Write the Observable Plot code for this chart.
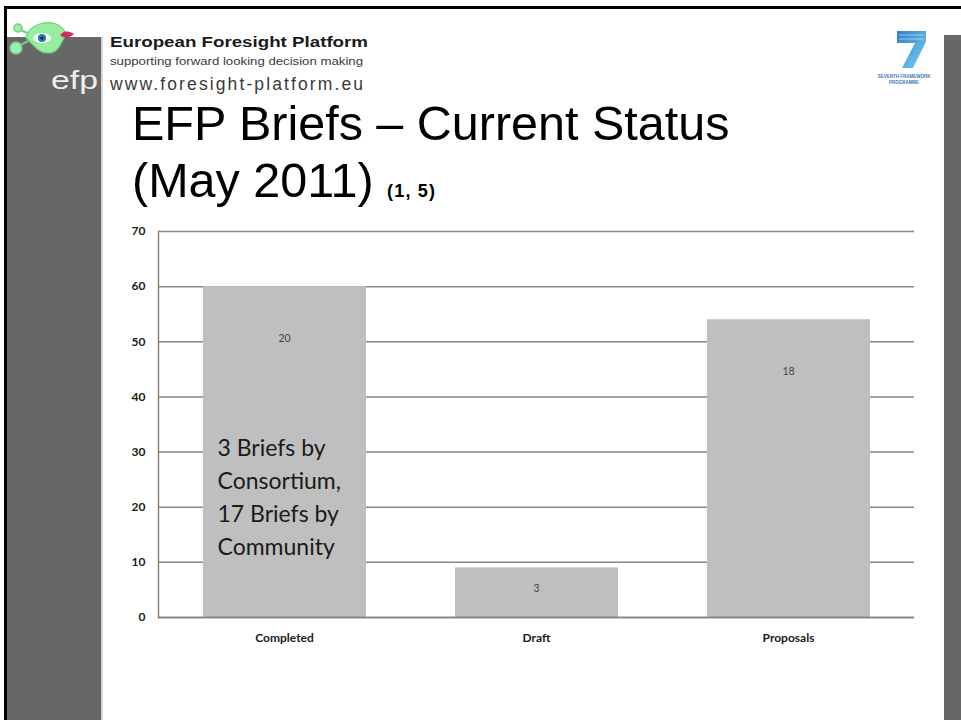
<!DOCTYPE html>
<html>
<head>
<meta charset="utf-8">
<script src="https://cdn.jsdelivr.net/npm/d3@7"></script>
<script src="https://cdn.jsdelivr.net/npm/@observablehq/plot@0.6"></script>
<style>
  html, body { margin: 0; padding: 0; background: #fff; }
  #page { position: relative; width: 961px; height: 720px; overflow: hidden; background: #fff; }
  #deco { position: absolute; left: 0; top: 0; }
  #chart { position: absolute; left: 0; top: 0; }
</style>
</head>
<body>
<div id="page">
  <svg id="deco" width="961" height="720" xmlns="http://www.w3.org/2000/svg">
    <defs>
      <linearGradient id="fp7" x1="0" y1="0" x2="1" y2="1">
        <stop offset="0" stop-color="#2f7fce"/>
        <stop offset="1" stop-color="#7fd0ee"/>
      </linearGradient>
    </defs>
    <!-- slide border and side bands -->
    <rect x="4" y="6" width="957" height="3" fill="#000"/>
    <rect x="4" y="6" width="3" height="714" fill="#000"/>
    <rect x="7" y="37" width="94" height="683" fill="#676767"/>
    <rect x="101" y="37" width="2" height="683" fill="#d8d8d8"/>
    <rect x="944" y="35" width="17" height="685" fill="#676767"/>
    <!-- efp logo -->
    <g>
      <path d="M30,34 L18,29 M30,40 L17,47" stroke="#6fd07f" stroke-width="2" fill="none"/>
      <circle cx="18" cy="28" r="4" fill="#9cf0a6" stroke="#6fd07f" stroke-width="1.5"/>
      <circle cx="16" cy="48" r="6" fill="#9cf0a6" stroke="#6fd07f" stroke-width="1.5"/>
      <path d="M26,38 C28,26 44,20 56,24 C62,26 64,30 66,33 L64,38 C60,45 58,53 48,53 C38,53 34,45 26,38 Z" fill="#98ee9f" stroke="#6fd07f" stroke-width="1.2"/>
      <ellipse cx="42" cy="38" rx="9" ry="5" fill="#f4fbf4"/>
      <circle cx="42" cy="38" r="4" fill="#2c78a8"/>
      <circle cx="42" cy="38" r="1.6" fill="#0b2a40"/>
      <path d="M60,35 C64,30 70,31 74,34 C70,38 64,39 60,35 Z" fill="#d42a5f"/>
      <text x="51" y="89" font-family="Liberation Sans, Arial, sans-serif" font-size="26" fill="#eeeeee" textLength="47" lengthAdjust="spacingAndGlyphs">efp</text>
    </g>
    <!-- header -->
    <text x="110" y="47" font-family="Liberation Sans, Arial, sans-serif" font-weight="bold" font-size="14" fill="#1a1a1a" textLength="258" lengthAdjust="spacingAndGlyphs">European Foresight Platform</text>
    <text x="110" y="65" font-family="Liberation Sans, Arial, sans-serif" font-size="10" fill="#3a3a3a" textLength="253" lengthAdjust="spacingAndGlyphs">supporting forward looking decision making</text>
    <text x="110" y="90" font-family="Liberation Sans, Arial, sans-serif" font-size="17.5" fill="#3a3a3a" textLength="253" lengthAdjust="spacing">www.foresight-platform.eu</text>
    <!-- FP7 logo -->
    <g>
      <path d="M897,31 L926,31 L926,42 L913,68 L902,68 L915,43 L897,43 Z" fill="url(#fp7)"/>
      <path d="M899,35 L924,35 M899,39 L923,39" stroke="#ffffff" stroke-width="0.8" opacity="0.6"/>
      <text x="904" y="78" text-anchor="middle" font-family="Liberation Sans, Arial, sans-serif" font-size="4.5" font-weight="bold" fill="#3f78b8">SEVENTH FRAMEWORK</text>
      <text x="904" y="84" text-anchor="middle" font-family="Liberation Sans, Arial, sans-serif" font-size="4.5" font-weight="bold" fill="#3f78b8">PROGRAMME</text>
    </g>
    <!-- title -->
    <text x="132" y="140" font-family="Liberation Sans, Arial, sans-serif" font-size="48.5" fill="#000">EFP Briefs – Current Status</text>
    <text x="132" y="197" font-family="Liberation Sans, Arial, sans-serif" font-size="48.5" fill="#000">(May 2011)</text>
    <text x="387" y="197" font-family="Liberation Sans, Arial, sans-serif" font-size="18" font-weight="bold" fill="#000" textLength="48" lengthAdjust="spacing">(1, 5)</text>
  </svg>
  <div id="chart"></div>
</div>
<script>
// ---- data ----
const categories = ["Completed", "Draft", "Proposals"];
const barValues = [60, 9, 54];
const barLabels = ["20", "3", "18"];
const yTicks = [0, 10, 20, 30, 40, 50, 60, 70];
const annotationLines = ["3 Briefs by", "Consortium,", "17 Briefs by", "Community"];

const rows = categories.map((c, i) => ({category: c, value: barValues[i], label: barLabels[i]}));

const chart = Plot.plot({
  width: 961,
  height: 720,
  marginLeft: 158,
  marginRight: 47,
  marginTop: 231,
  marginBottom: 103,
  style: {fontFamily: "Lato, sans-serif", background: "transparent", overflow: "visible"},
  x: {domain: categories, padding: 0, label: null},
  y: {domain: [0, 70], ticks: yTicks, label: null},
  marks: [
    Plot.ruleY(yTicks.filter(t => t > 0), {stroke: "#878787", strokeWidth: 1.5}),
    Plot.barY(rows, {x: "category", y: "value", fill: "#bfbfbf", insetLeft: 45, insetRight: 44}),
    Plot.ruleY([0], {stroke: "#878787", strokeWidth: 2}),
    Plot.frame({anchor: "left", stroke: "#878787", strokeWidth: 1.5}),
    Plot.axisY({ticks: yTicks, tickSize: 0, tickPadding: 13, fontSize: 12, fontWeight: "bold", fill: "#1a1a1a", label: null}),
    Plot.axisX({tickSize: 0, tickPadding: 16, fontSize: 12, fontWeight: "bold", fill: "#1a1a1a", label: null}),
    Plot.text(rows, {x: "category", y: d => d.value - Math.min(9.5, d.value * 0.42), text: "label", fontSize: 10.5, fill: "#454545"}),
    Plot.text([annotationLines.join("\n")], {
      x: () => categories[0], y: () => 31.5, text: d => d,
      textAnchor: "start", lineAnchor: "top", dx: -67, dy: -11, lineHeight: 1.43,
      fontSize: 23, fill: "#1a1a1a"
    })
  ]
});
document.getElementById("chart").appendChild(chart);
</script>
</body>
</html>
